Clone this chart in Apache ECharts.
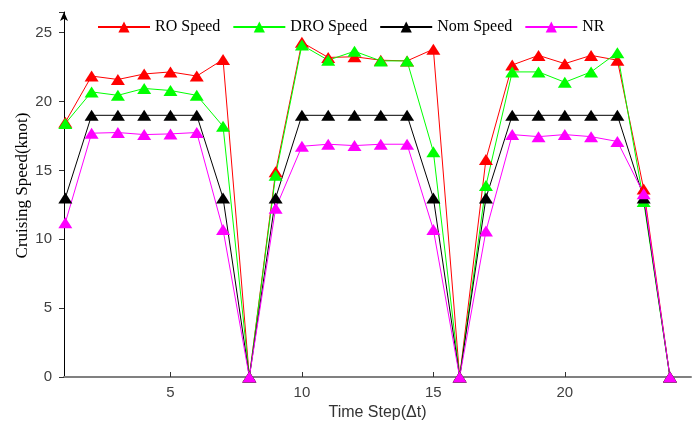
<!DOCTYPE html>
<html>
<head>
<meta charset="utf-8">
<script src="https://cdn.jsdelivr.net/npm/echarts@6/dist/echarts.min.js"></script>
<style>
  html, body { margin: 0; padding: 0; background: #fff; }
  #main { width: 693px; height: 426px; }
</style>
</head>
<body>
<div id="main"></div>
<script>
let steps = [];
for (let i = 1; i <= 24; i++) steps.push(i);

let xTicks = [5, 10, 15, 20];

let roSpeed = [18.5, 21.85, 21.6, 22.0, 22.15, 21.85, 23.05, 0, 14.9, 24.3, 23.2, 23.25, 23.0, 22.95, 23.8, 0,
    15.8, 22.65, 23.35, 22.75, 23.35, 23.0, 13.65, 0];
let droSpeed = [18.4, 20.7, 20.45, 20.95, 20.8, 20.45, 18.2, 0, 14.65, 24.1, 23.0, 23.65, 22.95, 22.95, 16.35, 0,
    13.9, 22.15, 22.15, 21.4, 22.15, 23.55, 12.75, 0];
let nomSpeed = [13, 19, 19, 19, 19, 19, 13, 0, 13, 19, 19, 19, 19, 19, 13, 0,
    13, 19, 19, 19, 19, 19, 13, 0];
let nrSpeed = [11.2, 17.7, 17.75, 17.6, 17.65, 17.75, 10.7, 0, 12.25, 16.75, 16.9, 16.8, 16.9, 16.9, 10.7, 0,
    10.6, 17.6, 17.45, 17.6, 17.45, 17.1, 13.3, 0];

let seriesList = [
    {name: 'RO Speed', data: roSpeed, color: '#ff0000'},
    {name: 'DRO Speed', data: droSpeed, color: '#00ff00'},
    {name: 'Nom Speed', data: nomSpeed, color: '#000000'},
    {name: 'NR', data: nrSpeed, color: '#ff00ff'}
];

let tickFont = {
    fontFamily: 'Liberation Sans',
    fontSize: 15,
    color: '#404040'
};

let option = {
    animation: false,
    backgroundColor: '#fff',
    grid: {
        left: 64,
        right: 2,
        top: 12,
        bottom: 49
    },
    legend: {
        top: 14,
        left: 92,
        itemWidth: 52,
        itemHeight: 14,
        itemGap: 12,
        textStyle: {
            fontFamily: 'Liberation Serif',
            fontSize: 16,
            color: '#000'
        }
    },
    xAxis: {
        type: 'value',
        min: 0.95,
        max: 24.8,
        name: 'Time Step(\u0394t)',
        nameLocation: 'middle',
        nameGap: 28,
        nameTextStyle: {
            fontFamily: 'Liberation Sans',
            fontSize: 16,
            color: '#333'
        },
        axisLine: {lineStyle: {color: '#808080', width: 2}},
        axisTick: {inside: true, length: 5, customValues: xTicks, lineStyle: {color: '#333'}},
        axisLabel: Object.assign({
            margin: 8,
            customValues: xTicks
        }, tickFont),
        splitLine: {show: false}
    },
    yAxis: {
        type: 'value',
        min: 0,
        max: 26.5,
        interval: 5,
        name: 'Cruising Speed(knot)',
        nameLocation: 'middle',
        nameGap: 33,
        nameMoveOverlap: false,
        nameTextStyle: {
            fontFamily: 'Liberation Serif',
            fontSize: 17,
            color: '#000',
            padding: [0, 0, 0, 18]
        },
        axisLine: {
            lineStyle: {color: '#000', width: 1},
            symbol: ['none', 'arrow'],
            symbolSize: [6, 9]
        },
        axisTick: {length: 5, lineStyle: {color: '#333'}},
        axisLabel: Object.assign({
            margin: 12,
            formatter: v => (v % 5 === 0 ? v : '')
        }, tickFont),
        splitLine: {show: false}
    },
    series: seriesList.map(s => ({
        name: s.name,
        type: 'line',
        data: steps.map((x, i) => [x, s.data[i]]),
        symbol: 'triangle',
        symbolSize: [14, 11],
        color: s.color,
        lineStyle: {width: 1, color: s.color},
        itemStyle: {color: s.color}
    }))
};

echarts.init(document.getElementById('main')).setOption(option);
</script>
</body>
</html>
